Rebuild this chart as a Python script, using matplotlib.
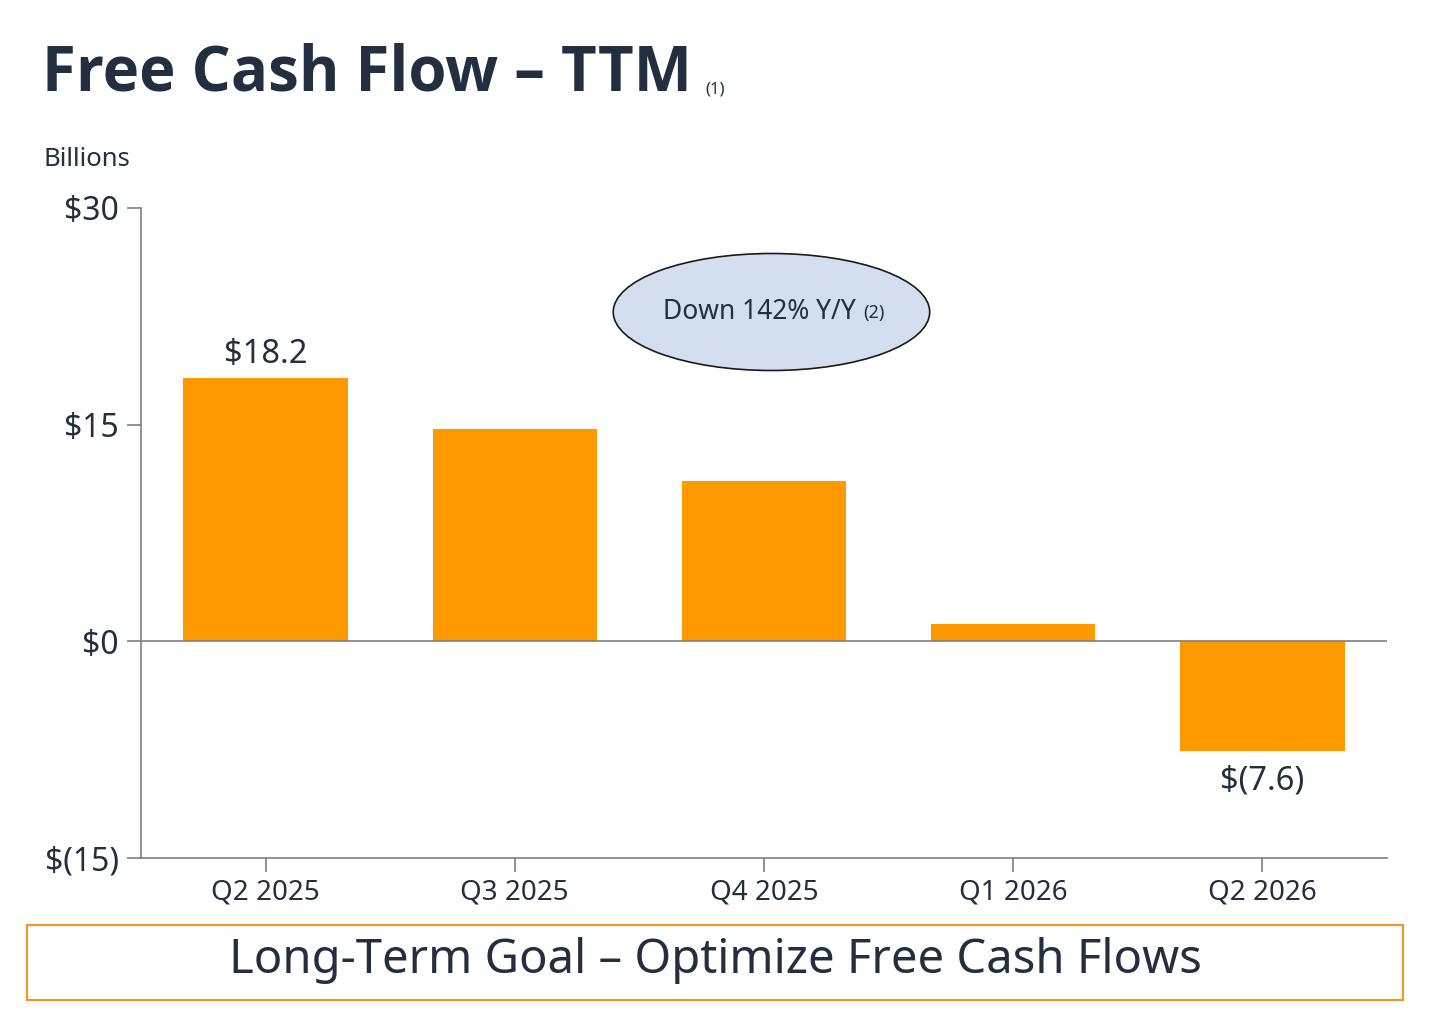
import matplotlib
matplotlib.use("Agg")
import matplotlib.pyplot as plt
from matplotlib.patches import Ellipse, Rectangle

plt.rcParams['font.family'] = ['Noto Sans', 'DejaVu Sans']

quarters = ["Q2 2025", "Q3 2025", "Q4 2025", "Q1 2026", "Q2 2026"]
fcf_ttm = [18.2, 14.7, 11.1, 1.2, -7.6]
y_ticks = [-15, 0, 15, 30]
y_tick_labels = ["$(15)", "$0", "$15", "$30"]

navy = "#232F3E"
orange = "#FF9900"
grey = "#7f7f7f"

fig = plt.figure(figsize=(14.56, 10.14), dpi=100)
ax = fig.add_axes([141 / 1456, 1 - 858 / 1014, 1246 / 1456, 650 / 1014])

x = list(range(len(quarters)))
ax.bar(x, fcf_ttm, width=0.66, color=orange, zorder=2)
ax.axhline(0, color=grey, lw=1.2, zorder=3)

ax.set_xlim(-0.5, 4.5)
ax.set_ylim(-15, 30)
ax.set_yticks(y_ticks)
ax.set_yticklabels(y_tick_labels, fontsize=23, color=navy)
ax.set_xticks(x)
ax.set_xticklabels(quarters, fontsize=20, color=navy)
ax.tick_params(axis="y", length=10, width=1.2, color=grey, pad=6)
ax.tick_params(axis="x", length=10, width=1.2, color=grey, pad=5)
for s in ["top", "right"]:
    ax.spines[s].set_visible(False)
for s in ["left", "bottom"]:
    ax.spines[s].set_color(grey)
    ax.spines[s].set_linewidth(1.2)

# value labels on first and last bar
ax.text(x[0], fcf_ttm[0] + 0.5, "$18.2", ha="center", va="bottom", fontsize=23.5, color=navy)
ax.text(x[-1], fcf_ttm[-1] - 0.9, "$(7.6)", ha="center", va="top", fontsize=23.5, color=navy)

# callout ellipse
ell = Ellipse((2.03, 22.8), 1.27, 8.1, facecolor="#D3DEEE", edgecolor="#1a1a1a", lw=1.2, zorder=4)
ax.add_patch(ell)
main = ax.text(1.98, 22.8, "Down 142% Y/Y", ha="center", va="center", fontsize=19, color=navy, zorder=5)
ax.annotate("(2)", xy=(1, 0.45), xycoords=main, xytext=(6, 0), textcoords="offset points",
            ha="left", va="center", fontsize=13, color=navy, zorder=5)

# title
fig.text(42 / 1456, 1 - 74 / 1014, "Free Cash Flow – TTM", fontsize=44.5, fontweight="bold",
         family=["Open Sans", "DejaVu Sans"], color=navy, ha="left", va="center")
fig.text(705 / 1456, 1 - 89 / 1014, "(1)", fontsize=12, color=navy, ha="left", va="center")
fig.text(43 / 1456, 1 - 160 / 1014, "Billions", fontsize=18.5, color=navy, ha="left", va="center")

# bottom goal box
box = Rectangle((27 / 1456, 1 - 1000 / 1014), 1376 / 1456, 75 / 1014, transform=fig.transFigure,
                facecolor="white", edgecolor="#F7941D", lw=1.5)
fig.patches.append(box)
fig.text(715 / 1456, 1 - 960 / 1014, "Long-Term Goal – Optimize Free Cash Flows", fontsize=34,
         color=navy, ha="center", va="center")

fig.savefig("out.png", dpi=100)
